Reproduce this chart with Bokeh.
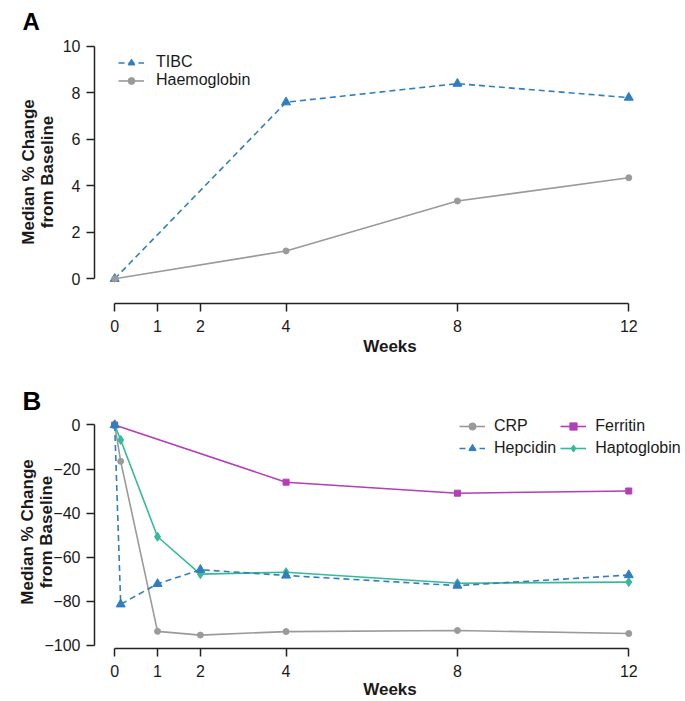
import numpy as np
from bokeh.plotting import figure
from bokeh.models import Range1d, FixedTicker, Legend, LegendItem
from bokeh.layouts import column
from bokeh.embed import file_html
from bokeh.resources import INLINE

# ---------------- data ----------------
weeks_a = [0, 4, 8, 12]
tibc = [0, 7.6, 8.4, 7.8]
haemoglobin = [0, 1.2, 3.35, 4.35]

weeks_b = [0, 0.14, 1, 2, 4, 8, 12]
crp = [0, -16.5, -93.8, -95.5, -93.9, -93.4, -94.8]
hepcidin = [0, -81.5, -72.2, -65.8, -68.4, -73.0, -68.2]
haptoglobin = [0, -6.8, -50.8, -67.8, -66.9, -71.9, -71.4]
weeks_ferritin = [0, 4, 8, 12]
ferritin = [0, -26, -31, -30]

x_ticks = [0, 1, 2, 4, 8, 12]
a_y_ticks = [0, 2, 4, 6, 8, 10]
b_y_ticks = [0, -20, -40, -60, -80, -100]

FONT = "Liberation Sans"
TXT = "#1a1a1a"
BLUE = "#2f7ec1"
GRAY = "#9a9a9a"
MAGENTA = "#b53db5"
TEAL = "#36b999"


def make_fig(height, y_start, y_end, top, bottom, y_bounds, y_ticks,
             letter, letter_size, letter_standoff, ylabel_standoff, weeks_standoff):
    p = figure(width=685, height=height,
               x_range=Range1d(-0.4715, 13.324), y_range=Range1d(y_start, y_end),
               output_backend="svg", toolbar_location=None,
               min_border_left=94, min_border_right=0,
               min_border_top=top, min_border_bottom=bottom)
    p.outline_line_color = None
    p.grid.visible = False
    p.background_fill_color = "white"
    for ax in (p.xaxis[0], p.yaxis[0]):
        ax.axis_line_color = "#222222"
        ax.axis_line_width = 1.5
        ax.major_tick_line_color = "#222222"
        ax.major_tick_line_width = 1.5
        ax.major_tick_out = 8
        ax.major_tick_in = 0
        ax.minor_tick_line_color = None
        ax.major_label_text_font = FONT
        ax.major_label_text_font_size = "16px"
        ax.major_label_text_color = TXT
        ax.axis_label_text_font = FONT
        ax.axis_label_text_font_size = "17px"
        ax.axis_label_text_font_style = "bold"
        ax.axis_label_text_color = TXT
        ax.axis_label_text_line_height = 1.0
    xa, ya = p.xaxis[0], p.yaxis[0]
    xa.ticker = FixedTicker(ticks=x_ticks)
    xa.bounds = (0, 12)
    xa.major_label_standoff = 8
    xa.axis_label = "Weeks"
    xa.axis_label_standoff = weeks_standoff
    ya.ticker = FixedTicker(ticks=y_ticks)
    ya.bounds = y_bounds
    ya.major_label_standoff = 6
    ya.major_label_overrides = {t: str(t).replace("-", "\u2212") for t in y_ticks}
    ya.axis_label = "Median % Change\nfrom Baseline"
    ya.axis_label_standoff = ylabel_standoff
    p.title.text = letter
    p.title.align = "left"
    p.title.offset = -72
    p.title.standoff = letter_standoff
    p.title.text_font = FONT
    p.title.text_font_size = letter_size
    p.title.text_font_style = "bold"
    p.title.text_color = "black"
    return p


def style_legend(lg):
    lg.label_text_font = FONT
    lg.label_text_font_size = "16px"
    lg.label_text_color = TXT
    lg.glyph_width = 26
    lg.padding = 0
    lg.margin = 0
    lg.border_line_color = None
    lg.background_fill_alpha = 0


# ---------------- Panel A ----------------
pa = make_fig(372, -1.063, 10.258, 40, 69, (0, 10), a_y_ticks, "A", "24px", 11, 3, 2)
tl = pa.line(weeks_a, tibc, line_color=BLUE, line_width=1.6, line_dash="6 4")
ts = pa.scatter(weeks_a, tibc, marker="triangle", size=9, fill_color=BLUE, line_color=BLUE)
hl = pa.line(weeks_a, haemoglobin, line_color=GRAY, line_width=1.6)
hs = pa.scatter(weeks_a, haemoglobin, marker="circle", size=6, fill_color=GRAY, line_color=GRAY)
lga = Legend(items=[LegendItem(label="TIBC", renderers=[tl, ts]),
                    LegendItem(label="Haemoglobin", renderers=[hl, hs])],
             location=(24, 214), orientation="vertical")
style_legend(lga)
lga.glyph_height = 17
lga.label_height = 17
lga.label_standoff = 12
lga.spacing = -3
pa.add_layout(lga)

# ---------------- Panel B ----------------
pb = make_fig(329, -101.59, 4.318, 43, 53, (-100, 0), b_y_ticks, "B", "26px", 0, -15, 0)
cl = pb.line(weeks_b, crp, line_color=GRAY, line_width=1.6)
cs = pb.scatter(weeks_b, crp, marker="circle", size=6, fill_color=GRAY, line_color=GRAY)
fl = pb.line(weeks_ferritin, ferritin, line_color=MAGENTA, line_width=1.6)
fs = pb.scatter(weeks_ferritin, ferritin, marker="square", size=6, fill_color=MAGENTA, line_color=MAGENTA)
gl = pb.line(weeks_b, haptoglobin, line_color=TEAL, line_width=1.6)
gs = pb.scatter(weeks_b, haptoglobin, marker="diamond", size=9, fill_color=TEAL, line_color=TEAL)
pl = pb.line(weeks_b, hepcidin, line_color=BLUE, line_width=1.6, line_dash="6 4")
ps = pb.scatter(weeks_b, hepcidin, marker="triangle", size=9, fill_color=BLUE, line_color=BLUE)
lgb = Legend(items=[LegendItem(label="CRP", renderers=[cl, cs]),
                    LegendItem(label="Hepcidin", renderers=[pl, ps]),
                    LegendItem(label="Ferritin", renderers=[fl, fs]),
                    LegendItem(label="Haptoglobin", renderers=[gl, gs])],
             location=(365, 191), orientation="vertical", ncols=2)
style_legend(lgb)
lgb.glyph_height = 18
lgb.label_height = 18
lgb.label_standoff = 9
lgb.spacing = 4
pb.add_layout(lgb)

layout = column(pa, pb)
open("out.html", "w").write(file_html(layout, INLINE))
